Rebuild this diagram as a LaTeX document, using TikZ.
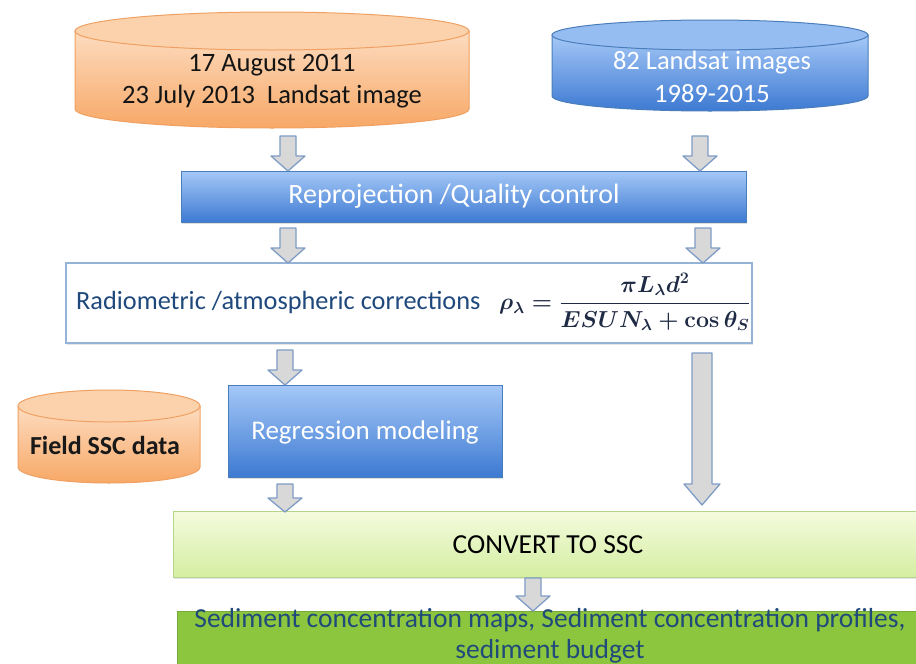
\documentclass[tikz,border=0pt]{standalone}
\usepackage{amsmath}
\usepackage[no-math]{fontspec}
\setmainfont{Carlito}
\usetikzlibrary{calc,shadows}
\definecolor{orA}{HTML}{FDDCC0}
\definecolor{orB}{HTML}{F7A866}
\definecolor{orTop}{HTML}{FBD2AC}
\definecolor{orEdge}{HTML}{F0A062}
\definecolor{blA}{HTML}{A5C8F7}
\definecolor{blB}{HTML}{3D7AD2}
\definecolor{blTop}{HTML}{96BDF2}
\definecolor{blEdge}{HTML}{4A7EBB}
\definecolor{cvA}{HTML}{F5FBDE}
\definecolor{cvB}{HTML}{D4EEA2}
\definecolor{cvEdge}{HTML}{B5D68A}
\definecolor{gnFill}{HTML}{8CC63F}
\definecolor{gnEdge}{HTML}{76A83A}
\definecolor{gnText}{HTML}{1F4A7A}
\definecolor{arFill}{HTML}{D8D8D8}
\definecolor{arEdge}{HTML}{7E9CC6}
\definecolor{radEdge}{HTML}{95B3D7}
\definecolor{radText}{HTML}{1F497D}
\definecolor{fmText}{HTML}{1F2A44}
\newcommand\reflformula{$\rho_\lambda=\dfrac{\pi L_\lambda d^2}{ESUN_\lambda+\cos\theta_S}$}
\tikzset{
  x=1pt, y=1pt,
  barrow/.style={fill=arFill, draw=arEdge, line width=1.3pt, line join=round},
  txt/.style={font=\fontsize{27}{32}\selectfont, align=center, inner sep=0pt},
  bluebox/.style={rectangle, top color=blA, bottom color=blB, draw=blEdge, line width=0.8pt,
    drop shadow={opacity=0.25, shadow xshift=1pt, shadow yshift=-2pt}},
  fmla/.style={inner sep=0pt, anchor=west, text=fmText, font=\fontsize{25}{29}\selectfont\boldmath,
    scale=0.93, transform shape},
}
\newcommand\blockarrow[5]{%
  \draw[barrow] let \p1=(#1), \p2=(#2) in
    (\x1-#3,\y1) -- (\x1+#3,\y1) -- (\x1+#3,\y2+#5) -- (\x1+#4,\y2+#5) --
    (\x1,\y2) -- (\x1-#4,\y2+#5) -- (\x1-#3,\y2+#5) -- cycle;}
\begin{document}
\begin{tikzpicture}
\useasboundingbox[fill=white] (0,0) rectangle (916,-664);

% ---- orange cylinder (dates)
\path[top color=orA, bottom color=orB, draw=orEdge, line width=1pt]
  (75,-31) -- (75,-109) arc[start angle=180, end angle=360, x radius=197, y radius=19]
  -- (469,-31) -- cycle;
\draw[fill=orTop, draw=orEdge, line width=1pt] (272,-31) ellipse[x radius=197, y radius=19];
\node[txt, text=black!92, font=\fontsize{26.5}{32}\selectfont] (dates) at (272,-81) {17 August 2011\\23 July 2013~~Landsat image};

% ---- blue cylinder (82 images)
\path[top color=blA, bottom color=blB, draw=blEdge, line width=1pt]
  (552,-35) -- (552,-96) arc[start angle=180, end angle=360, x radius=158, y radius=15]
  -- (868,-35) -- cycle;
\draw[fill=blTop, draw=blEdge, line width=1pt] (710,-35) ellipse[x radius=158, y radius=15];
\node[txt, text=white, font=\fontsize{26.5}{33}\selectfont] (imgs) at (712,-77) {82 Landsat images\\1989-2015};

% ---- reprojection box
\node[bluebox, minimum width=565, minimum height=51, inner sep=0pt] (reproj) at (463.5,-196.5) {};
\node[txt, text=white, font=\fontsize{28}{32}\selectfont] (reprojTxt) at (454,-196) {Reprojection /Quality control};

% ---- radiometric box
\node[rectangle, fill=white, draw=radEdge, line width=1.2pt, minimum width=686, minimum height=80,
  drop shadow={opacity=0.2, shadow xshift=1pt, shadow yshift=-2pt}] (rad) at (409,-303) {};
\node[txt, text=radText, anchor=west, font=\fontsize{26.3}{32}\selectfont] (radTxt) at (76,-302) {Radiometric /atmospheric corrections};
\node[fmla] (formula) at (499,-302) {\reflformula};

% ---- field SSC cylinder
\path[top color=orA, bottom color=orB, draw=orEdge, line width=1pt]
  (18,-406) -- (18,-467) arc[start angle=180, end angle=360, x radius=91, y radius=16]
  -- (200,-406) -- cycle;
\draw[fill=orTop, draw=orEdge, line width=1pt] (109,-406) ellipse[x radius=91, y radius=16];
\node[txt, text=black!90, font=\fontsize{26}{32}\selectfont\bfseries] (field) at (105,-445) {Field SSC data};

% ---- regression box
\node[bluebox, minimum width=274, minimum height=92, inner sep=0pt] (regr) at (365,-431) {};
\node[txt, text=white] (regrTxt) at (365,-432) {Regression modeling};

% ---- convert box
\node[rectangle, top color=cvA, bottom color=cvB, draw=cvEdge, line width=1pt,
  minimum width=745, minimum height=66, inner sep=0pt,
  drop shadow={opacity=0.2, shadow xshift=1pt, shadow yshift=-2pt}] (conv) at (545.5,-544) {};
\node[txt, text=black, font=\fontsize{27.5}{32}\selectfont] (convTxt) at (548,-545) {CONVERT TO SSC};

% ---- result box
\node[rectangle, fill=gnFill, draw=gnEdge, line width=1pt, minimum width=743, minimum height=60,
  inner sep=0pt] (res) at (548.5,-641) {};
\node[txt, text=gnText, font=\fontsize{27.5}{31}\selectfont] (resTxt) at (550,-636)
  {Sediment concentration maps, Sediment concentration profiles,\\sediment budget};

% ---- arrow end points
\coordinate (a1s) at (288,-136); \coordinate (a1e) at (288,-171);
\coordinate (a2s) at (700,-136); \coordinate (a2e) at (700,-171);
\coordinate (a3s) at (288,-228); \coordinate (a3e) at (288,-263);
\coordinate (a4s) at (703,-228); \coordinate (a4e) at (703,-263);
\coordinate (a5s) at (285,-350); \coordinate (a5e) at (285,-385);
\coordinate (a6s) at (702,-353); \coordinate (a6e) at (702,-505);
\coordinate (a7s) at (285,-484); \coordinate (a7e) at (285,-512);
\coordinate (a8s) at (533,-578); \coordinate (a8e) at (533,-611);

\blockarrow{a1s}{a1e}{8pt}{17pt}{15pt}
\blockarrow{a2s}{a2e}{8pt}{17pt}{15pt}
\blockarrow{a3s}{a3e}{8pt}{17pt}{15pt}
\blockarrow{a4s}{a4e}{8pt}{17pt}{15pt}
\blockarrow{a5s}{a5e}{8pt}{17pt}{15pt}
\blockarrow{a6s}{a6e}{10pt}{18pt}{21pt}
\blockarrow{a7s}{a7e}{8pt}{17pt}{14pt}
\blockarrow{a8s}{a8e}{8pt}{17pt}{15pt}
\end{tikzpicture}
\end{document}
